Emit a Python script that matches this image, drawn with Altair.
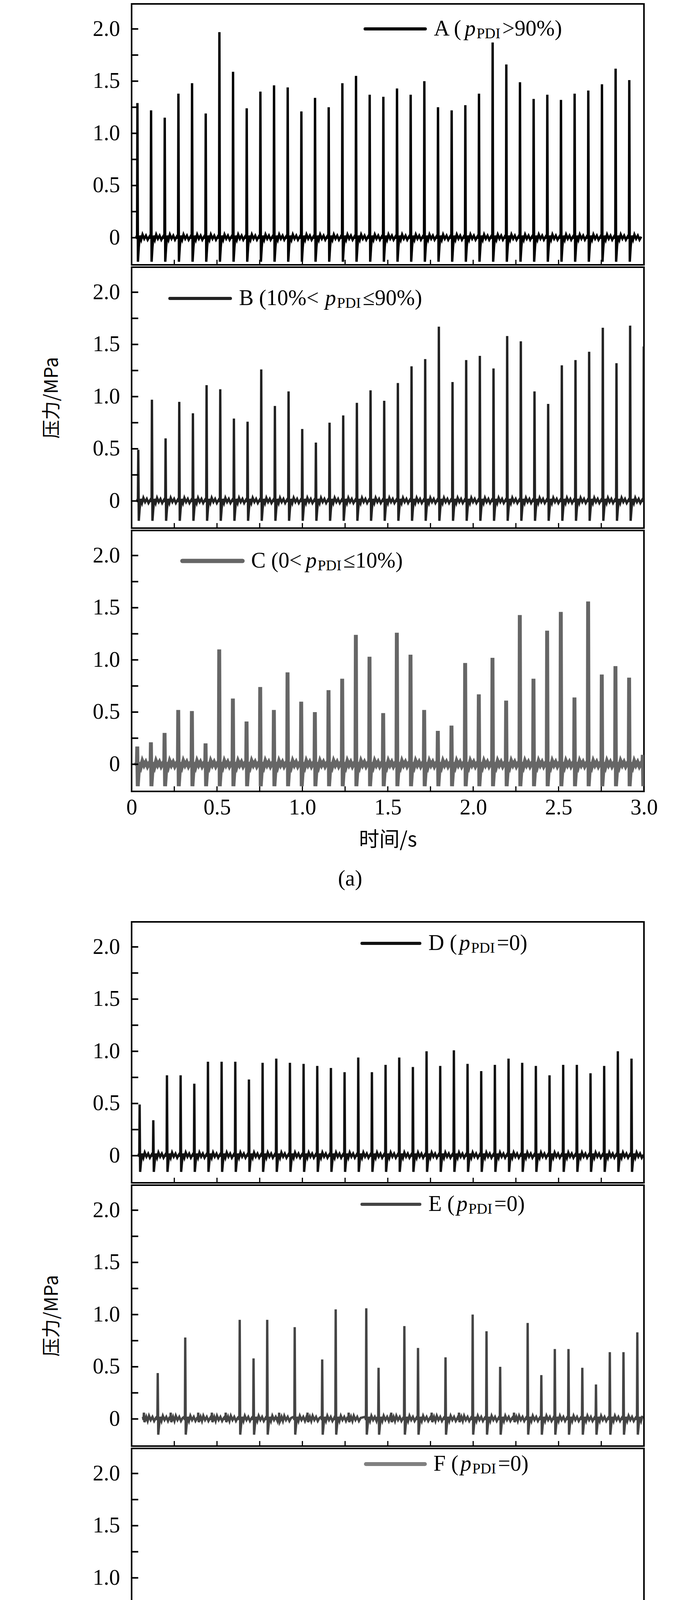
import pandas as pd
import altair as alt

# spike peaks (MPa), pulses every 0.08 s
period = 0.08
a_start, b_start, c_start, d_start, f_start = 0.034, 0.039, 0.033, 0.047, 0.068

a_peaks = [1.29, 1.22, 1.15, 1.38, 1.48, 1.19, 1.97, 1.59, 1.24, 1.40, 1.46, 1.44, 1.21,
           1.34, 1.25, 1.48, 1.55, 1.37, 1.35, 1.43, 1.37, 1.50, 1.25, 1.22, 1.27, 1.38,
           1.87, 1.66, 1.49, 1.33, 1.37, 1.32, 1.38, 1.41, 1.47, 1.62, 1.51]
b_peaks = [0.49, 0.97, 0.60, 0.95, 0.84, 1.11, 1.07, 0.79, 0.76, 1.26, 0.91, 1.05, 0.69,
           0.56, 0.75, 0.82, 0.94, 1.06, 0.96, 1.13, 1.29, 1.36, 1.67, 1.14, 1.35, 1.39,
           1.27, 1.58, 1.53, 1.05, 0.93, 1.30, 1.35, 1.43, 1.66, 1.32, 1.68, 1.48]
c_peaks = [0.17, 0.21, 0.30, 0.52, 0.51, 0.20, 1.10, 0.63, 0.41, 0.74, 0.52, 0.88, 0.60,
           0.50, 0.71, 0.82, 1.24, 1.03, 0.49, 1.26, 1.05, 0.52, 0.32, 0.37, 0.97, 0.67,
           1.02, 0.61, 1.43, 0.82, 1.28, 1.46, 0.64, 1.56, 0.86, 0.94, 0.83, 0.09]
d_peaks = [0.49, 0.34, 0.77, 0.77, 0.69, 0.90, 0.90, 0.90, 0.73, 0.89, 0.93, 0.89, 0.88,
           0.86, 0.84, 0.80, 0.94, 0.80, 0.87, 0.94, 0.85, 1.00, 0.86, 1.01, 0.88, 0.81,
           0.87, 0.93, 0.89, 0.86, 0.77, 0.87, 0.87, 0.79, 0.86, 1.00, 0.93]
e_times = [0.153, 0.314, 0.633, 0.714, 0.794, 0.955, 1.116, 1.195, 1.374, 1.446, 1.597,
           1.677, 1.838, 1.997, 2.078, 2.158, 2.319, 2.399, 2.478, 2.558, 2.639, 2.719,
           2.800, 2.880, 2.961]
e_peaks = [0.44, 0.78, 0.95, 0.58, 0.95, 0.88, 0.57, 1.05, 1.06, 0.49, 0.89, 0.68, 0.59,
           1.00, 0.84, 0.50, 0.92, 0.42, 0.67, 0.67, 0.49, 0.33, 0.64, 0.64, 0.83]
e_bump_times = [0.072, 0.229, 0.390, 0.470, 0.551, 0.864, 1.030, 1.271, 1.520, 1.757,
                1.917, 2.239]
bump_height = 0.06
f_peaks = [0.07] * 37

troughs = {"A": -0.23, "B": -0.19, "C": -0.21, "D": -0.155, "E": -0.15, "F": -0.03}

# ringing shape after each pulse (time offset, value); "peak"/"trough" are filled per pulse
shape_dt = [-0.006, -0.002, 0.0, 0.003, 0.008, 0.014, 0.022, 0.03, 0.04, 0.05, 0.06, 0.07]
shape_v = [0.02, -0.01, "peak", "trough", "half", 0.02, -0.02, 0.03, -0.01, 0.02, -0.02, 0.01]


def pulses(times, peaks, trough):
    rows = []
    for t, pk in zip(times, peaks):
        for dt, v in zip(shape_dt, shape_v):
            val = {"peak": pk, "trough": trough, "half": trough * 0.4}.get(v, v)
            rows.append((t + dt, val))
    return rows


def regular(start, peaks, trough):
    times = [start + k * period for k in range(len(peaks))]
    return pulses(times, peaks, trough)


def frame(rows):
    df = pd.DataFrame(rows, columns=["t", "p"]).sort_values("t")
    return df[(df.t >= 0) & (df.t <= 3.0)]


df_a = frame(regular(a_start, a_peaks, troughs["A"]))
df_b = frame(regular(b_start, b_peaks, troughs["B"]))
df_c = frame(regular(c_start, c_peaks, troughs["C"]))
df_d = frame(regular(d_start, d_peaks, troughs["D"]))
df_e = frame(pulses(e_times, e_peaks, troughs["E"])
             + pulses(e_bump_times, [bump_height] * len(e_bump_times), -0.03))
df_f = frame(regular(f_start, f_peaks, troughs["F"]))

W, H = 1312, 668
FS = 56
SERIF = "Liberation Serif"
CJK = "Noto Sans CJK SC"

xs = alt.Scale(domain=[0, 3.0], nice=False, zero=False)
ys = alt.Scale(domain=[-0.26, 2.24], nice=False, zero=False)
lab = "datum.value == 0 ? '0' : format(datum.value, '.1f')"

# Times-like advance widths (em)
widths = {"A": .722, "B": .667, "C": .667, "D": .722, "E": .611, "F": .556, " ": .25,
          "(": .333, ")": .333, "p": .5, "P": .556, "I": .333, ">": .564, "<": .564,
          "≤": .549, "=": .564, "%": .833, "0": .5, "1": .5, "9": .5}


def text_w(s, size):
    return sum(widths.get(ch, .5) for ch in s) * size


def legend(color, sw, x0, x1, ly, head, tail):
    one = pd.DataFrame({"k": [0]})
    layers = [alt.Chart(one).mark_rule(color=color, strokeWidth=sw, strokeCap="round").encode(
        x=alt.value(x0), x2=alt.value(x1), y=alt.value(ly))]
    pieces = [(head, "normal", FS, 0), ("p", "italic", FS, 0), ("PDI", "normal", 38, 13),
              (tail, "normal", FS, 0)]
    px = x1 + 22
    for txt, style, size, dy in pieces:
        layers.append(alt.Chart(one).mark_text(
            align="left", baseline="middle", font=SERIF, fontSize=size, fontStyle=style,
            dy=dy, color="black").encode(x=alt.value(px), y=alt.value(ly), text=alt.value(txt)))
        px += text_w(txt, size) * 1.08
    return layers


def panel(df, color, sw, leg, bottom=False, ytitle=""):
    if bottom:
        xaxis = alt.Axis(values=[0, 0.5, 1.0, 1.5, 2.0, 2.5, 3.0], labelExpr=lab, ticks=False,
                         domain=False, grid=False, labelPadding=14, labelFontSize=FS,
                         labelFont=SERIF, labelColor="black", title="时间/s", titleFont=CJK,
                         titleFontSize=52, titleFontWeight="normal", titlePadding=30,
                         titleColor="black", labelFlush=False)
    else:
        xaxis = alt.Axis(labels=False, ticks=False, domain=False, grid=False, title="")
    yaxis = alt.Axis(values=[0, 0.5, 1.0, 1.5, 2.0], labelExpr=lab, ticks=False, domain=False,
                     grid=False, labelPadding=30, labelFontSize=FS, labelFont=SERIF,
                     labelColor="black", title=ytitle, titleFont=CJK, titleFontSize=48,
                     titleFontWeight="normal", titlePadding=80, titleColor="black",
                     labelFlush=False)
    line = alt.Chart(df).mark_line(color=color, strokeWidth=sw, clip=True).encode(
        x=alt.X("t:Q", scale=xs, axis=xaxis), y=alt.Y("p:Q", scale=ys, axis=yaxis))
    yt = alt.Chart(pd.DataFrame({"t": [0] * 9, "p": [0, .25, .5, .75, 1, 1.25, 1.5, 1.75, 2.0]})).mark_rule(
        color="black", strokeWidth=4).encode(y=alt.Y("p:Q", scale=ys),
                                             x=alt.value(0), x2=alt.value(17))
    xt = alt.Chart(pd.DataFrame({"t": [.25, .5, .75, 1, 1.25, 1.5, 1.75, 2, 2.25, 2.5, 2.75]})).mark_rule(
        color="black", strokeWidth=3).encode(x=alt.X("t:Q", scale=xs),
                                             y=alt.value(H - 13), y2=alt.value(H))
    return alt.layer(line, yt, xt, *leg).properties(width=W, height=H)


pa = panel(df_a, "#000000", 6, legend("#000000", 8, 598, 752, 64, "A (", ">90%)"))
pb = panel(df_b, "#222222", 6, legend("#222222", 8, 98, 253, 80, "B (10%<", "≤90%)"),
           ytitle="压力/MPa")
pc = panel(df_c, "#666666", 10, legend("#666666", 11, 130, 284, 78, "C (0<", "≤10%)"), bottom=True)
pd_ = panel(df_d, "#111111", 6, legend("#111111", 8, 590, 738, 55, "D (", "=0)"))
pe = panel(df_e, "#444444", 6, legend("#444444", 8, 590, 738, 49, "E (", "=0)"),
           ytitle="压力/MPa")
pf = panel(df_f, "#808080", 14, legend("#808080", 10, 600, 751, 40, "F (", "=0)"), bottom=True)

cap = dict(orient="bottom", anchor="middle", font=SERIF, fontSize=FS, fontWeight="normal",
           color="black", offset=45)
group_a = alt.vconcat(pa, pb, pc, spacing=0).properties(title=alt.TitleParams("(a)", **cap))
group_b = alt.vconcat(pd_, pe, pf, spacing=0).properties(title=alt.TitleParams("(b)", **cap))

chart = alt.vconcat(group_a, group_b, spacing=80).properties(
    padding={"left": 99, "top": 0, "right": 10, "bottom": 0}, background="white"
).configure_view(stroke="black", strokeWidth=4)

chart.save("out.html", embed_options={"renderer": "svg", "actions": False})
